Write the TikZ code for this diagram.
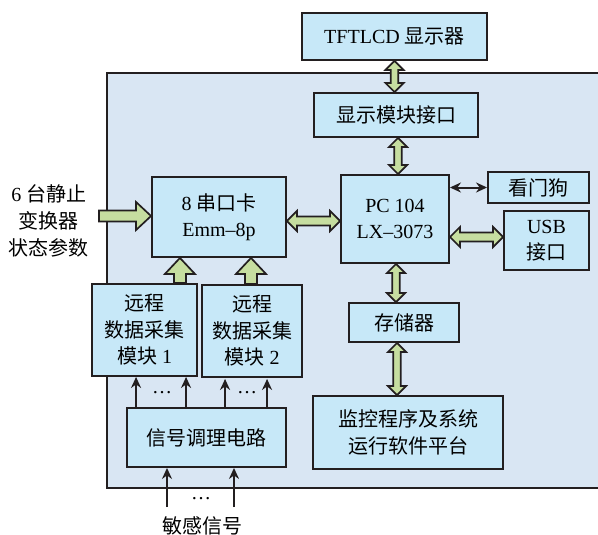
\documentclass[tikz,border=0pt]{standalone}
\usepackage{fontspec}
\setmainfont{Liberation Serif}
\newfontfamily\cjk{Noto Sans CJK SC}
\newcommand\zh[1]{{\cjk #1}}
\usetikzlibrary{calc,arrows.meta}
\definecolor{boxc}{HTML}{C7E8F8}
\definecolor{outc}{HTML}{D9E6F3}
\definecolor{arrc}{HTML}{C6DEA0}
\definecolor{linec}{HTML}{231F20}
\tikzset{
  box/.style={draw=linec, fill=boxc, line width=1.9pt, inner sep=0pt, align=center,
    font=\fontsize{20}{26.5}\selectfont},
  fat/.style={draw=linec, fill=arrc, line width=1.7pt, line join=miter},
  thinarr/.style={draw=linec, line width=2pt, -{Stealth[length=11pt,width=10pt]}},
  thindbl/.style={draw=linec, line width=2pt, {Stealth[length=11pt,width=10pt]}-{Stealth[length=11pt,width=10pt]}},
  lbl/.style={inner sep=0pt, align=center, font=\fontsize{20}{27}\selectfont},
  dots/.style={inner sep=0pt, font=\fontsize{20}{20}\selectfont}
}
% horizontal double fat arrow (left -> right), y from first point
\newcommand\hdbl[2]{\draw[fat] let \p1=(#1), \p2=(#2) in
  (\x1,\y1) -- ({\x1+10pt},{\y1+10pt}) -- ({\x1+10pt},{\y1+4.5pt}) -- ({\x2-10pt},{\y1+4.5pt})
  -- ({\x2-10pt},{\y1+10pt}) -- (\x2,\y1) -- ({\x2-10pt},{\y1-10pt}) -- ({\x2-10pt},{\y1-4.5pt})
  -- ({\x1+10pt},{\y1-4.5pt}) -- ({\x1+10pt},{\y1-10pt}) -- cycle;}
% vertical double fat arrow (top -> bottom), x from first point
\newcommand\vdbl[2]{\draw[fat] let \p1=(#1), \p2=(#2) in
  (\x1,\y1) -- ({\x1+9pt},{\y1-9pt}) -- ({\x1+3.8pt},{\y1-9pt}) -- ({\x1+3.8pt},{\y2+9pt})
  -- ({\x1+9pt},{\y2+9pt}) -- (\x1,\y2) -- ({\x1-9pt},{\y2+9pt}) -- ({\x1-3.8pt},{\y2+9pt})
  -- ({\x1-3.8pt},{\y1-9pt}) -- ({\x1-9pt},{\y1-9pt}) -- cycle;}
% horizontal single fat arrow pointing right
\newcommand\hsgl[2]{\draw[fat] let \p1=(#1), \p2=(#2) in
  (\x1,{\y1+5.5pt}) -- ({\x2-15pt},{\y1+5.5pt}) -- ({\x2-15pt},{\y1+14pt}) -- (\x2,\y1)
  -- ({\x2-15pt},{\y1-14pt}) -- ({\x2-15pt},{\y1-5.5pt}) -- (\x1,{\y1-5.5pt}) -- cycle;}
% vertical single fat arrow pointing up (bottom -> top)
\newcommand\vsgl[2]{\draw[fat] let \p1=(#1), \p2=(#2) in
  ({\x1-6pt},\y1) -- ({\x1-6pt},{\y2-16pt}) -- ({\x1-15pt},{\y2-16pt}) -- (\x1,\y2)
  -- ({\x1+15pt},{\y2-16pt}) -- ({\x1+6pt},{\y2-16pt}) -- ({\x1+6pt},\y1) -- cycle;}
\begin{document}
\begin{tikzpicture}[x=1pt,y=1pt]
\useasboundingbox (0,0) rectangle (598,-535);
% outer panel
\fill[outc] (107,-73) rectangle (602,-488);
\draw[linec, line width=1.9pt] (602,-73) -- (107,-73) -- (107,-488) -- (602,-488);
% boxes
\node[box, minimum width=185, minimum height=47] (tft) at (394.5,-36.5) {TFTLCD \zh{显示器}};
\node[box, minimum width=164, minimum height=44] (disp) at (396,-115) {\zh{显示模块接口}};
\node[box, minimum width=108, minimum height=88] (pc) at (395,-219) {PC 104\\LX–3073};
\node[box, minimum width=101, minimum height=31] (dog) at (538.5,-187.5) {\zh{看门狗}};
\node[box, minimum width=85, minimum height=59] (usb) at (546.5,-240.5) {USB\\\zh{接口}};
\node[box, minimum width=134, minimum height=80] (ser) at (219,-217) {8 \zh{串口卡}\\Emm–8p};
\node[box, minimum width=105, minimum height=92] (r1) at (144.5,-330) {\zh{远程}\\\zh{数据采集}\\\zh{模块} 1};
\node[box, minimum width=100, minimum height=92] (r2) at (252,-331) {\zh{远程}\\\zh{数据采集}\\\zh{模块} 2};
\node[box, minimum width=159, minimum height=59] (sig) at (206.5,-437.5) {\zh{信号调理电路}};
\node[box, minimum width=110, minimum height=39] (mem) at (404,-322.5) {\zh{存储器}};
\node[box, minimum width=190, minimum height=73] (mon) at (408,-432.5) {\zh{监控程序及系统}\\\zh{运行软件平台}};
% labels
\node[lbl] (inp) at (49,-221) {6 \zh{台静止}\\\zh{变换器}\\\zh{状态参数}};
\node[lbl] (sens) at (202,-526) {\zh{敏感信号}};
\node[dots] (d1) at (162,-393) {…};
\node[dots] (d2) at (247,-393) {…};
\node[dots] (d3) at (201,-499) {…};
\coordinate (in1) at (99,-216);
\coordinate (s1) at (167,-507);
\coordinate (s2) at (234,-507);
% fat arrows
\hsgl{in1}{in1 -| ser.west}
\hdbl{$(ser.east)+(0,-4)$}{pc.west}
\hdbl{$(pc.east)+(0,-18)$}{usb.west}
\vdbl{tft.south}{disp.north}
\vdbl{$(disp.south)+(2,0)$}{pc.north}
\vdbl{$(pc.south)+(1,0)$}{mem.north}
\vdbl{$(pc.south |- mem.south)+(2,0)$}{mon.north}
\vsgl{$(r1.north east)+(-18,0)$}{ser.south}
\vsgl{$(r2.north)+(-1,0)$}{ser.south}
% thin arrows
\draw[thindbl] (pc.east |- dog.west) -- (dog.west);
\draw[thinarr] ($(sig.north west)+(10,0)$) -- ($(r1.south west)+(45,0)$);
\draw[thinarr] ($(sig.north west)+(60,0)$) -- ($(r1.south west)+(95,0)$);
\draw[thinarr] ($(sig.north west)+(99,0)$) -- ($(r2.south west)+(24,-1)$);
\draw[thinarr] ($(sig.north west)+(141,0)$) -- ($(r2.south west)+(66,-1)$);
\draw[thinarr] (s1) -- (s1 |- sig.south);
\draw[thinarr] (s2) -- (s2 |- sig.south);
\end{tikzpicture}
\end{document}
